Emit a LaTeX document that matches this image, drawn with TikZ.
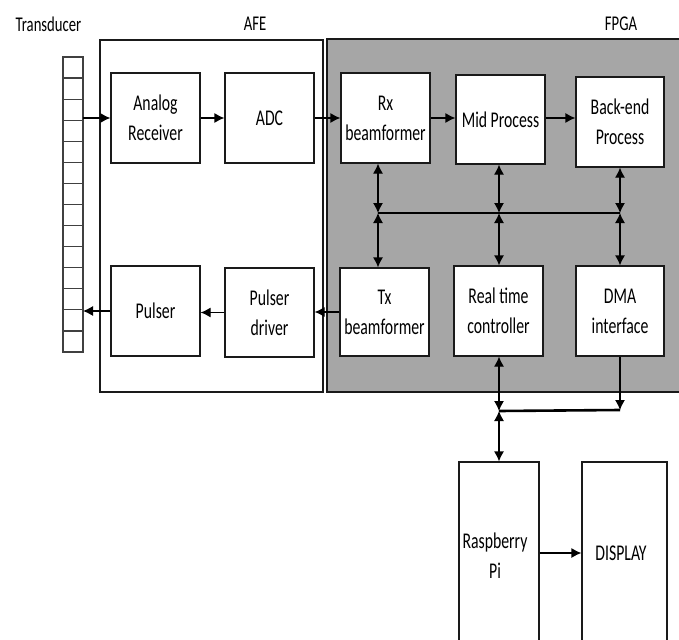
\documentclass[tikz,border=0pt]{standalone}
\usepackage{fontspec}
\setmainfont{Carlito}[FakeStretch=0.7]
\usetikzlibrary{arrows.meta}
\definecolor{fpgagray}{HTML}{A6A6A6}
\definecolor{edgecol}{HTML}{1A1A1A}
\begin{document}
\begin{tikzpicture}[x=1pt,y=-1pt,
  blk/.style={draw=edgecol, fill=white, line width=1.2pt, align=center, inner sep=0pt,
              font=\fontsize{22.5}{30}\selectfont},
  txt/.style={align=center, inner sep=0pt, font=\fontsize{22.5}{30}\selectfont},
  lbl/.style={inner sep=0pt, font=\fontsize{21}{25}\selectfont},
  arr/.style={-{Latex[length=10pt,width=10pt]}, line width=1.2pt, draw=black},
  darr/.style={{Latex[length=10pt,width=10pt]}-{Latex[length=10pt,width=10pt]}, line width=1.2pt, draw=black},
  bus/.style={line width=2.6pt, draw=black}]
\clip (0,0) rectangle (679,639);
\fill[white] (0,0) rectangle (679,639);
% labels
\node[lbl] (ltrans) at (48.5,24) {Transducer};
\node[lbl] (lafe) at (255,24) {AFE};
\node[lbl] (lfpga) at (621,24) {FPGA};
% AFE and FPGA regions
\draw[line width=1.2pt, draw=edgecol, fill=white] (100,40) rectangle (323,392);
\fill[fpgagray] (327,39) rectangle (685,392);
\draw[line width=1.2pt, draw=edgecol] (685,39) -- (327,39) -- (327,392) -- (685,392);
% transducer strip
\draw[line width=1.2pt, draw=black!75] (63,57) rectangle (83,352);
\foreach \i in {1,...,13} {
  \draw[line width=1.2pt, draw=black!75] (63,57+\i*21.07) -- (83,57+\i*21.07);
}
\coordinate (trans) at (83,200);
% blocks
\node[blk, minimum width=89pt, minimum height=90pt] (ar) at (155.5,118) {Analog\\Receiver};
\node[blk, minimum width=89pt, minimum height=90pt] (adc) at (269.5,118) {ADC};
\node[blk, minimum width=89pt, minimum height=90pt] (rx) at (385.5,118) {Rx\\beamformer};
\node[blk, minimum width=89pt, minimum height=89pt] (mid) at (500.5,119.5) {Mid Process};
\node[blk, minimum width=88pt, minimum height=90pt] (back) at (620,122) {Back-end\\Process};
\node[blk, minimum width=89pt, minimum height=90pt] (pul) at (155.5,311) {Pulser};
\node[blk, minimum width=89pt, minimum height=89pt] (pd) at (269.5,312.5) {Pulser\\driver};
\node[blk, minimum width=89pt, minimum height=88pt] (tx) at (384.5,312) {Tx\\beamformer};
\node[blk, minimum width=89pt, minimum height=90pt] (rtc) at (498.5,311) {Real time\\controller};
\node[blk, minimum width=88pt, minimum height=90pt] (dma) at (620,311) {DMA\\interface};
\node[blk, minimum width=80pt, minimum height=240pt] (rpi) at (499,582) {};
\node[blk, minimum width=85pt, minimum height=240pt] (disp) at (624.5,582) {};
\node[txt] (rpitxt) at (495,556) {Raspberry\\Pi};
\node[txt] (disptxt) at (621,553) {DISPLAY};
% receive chain
\draw[arr] (trans |- ar.west) -- (ar.west);
\draw[arr] (ar.east) -- (adc.west);
\draw[arr] (adc.east) -- (rx.west);
\draw[arr] (rx.east) -- (mid.west |- rx.east);
\draw[arr] (mid.east |- rx.east) -- (back.west |- rx.east);
% transmit chain
\draw[arr] (tx.west) -- (pd.east |- tx.west);
\draw[arr] (pd.west) -- (pul.east |- pd.west);
\draw[arr] (pul.west) -- (trans |- pul.west);
% top bus
\coordinate (b1) at (378,213);
\coordinate (b2) at (499,213);
\coordinate (b3) at (620,213);
\draw[bus] (b1) -- (b3);
\draw[darr] (b1 |- rx.south) -- (b1);
\draw[darr] (b2 |- mid.south) -- (b2);
\draw[darr] (b3 |- back.south) -- (b3);
\draw[darr] (b1) -- (b1 |- tx.north);
\draw[darr] (b2) -- (b2 |- rtc.north);
\draw[darr] (b3) -- (b3 |- dma.north);
% lower bus
\coordinate (c1) at (499,411);
\coordinate (c2) at (620,410);
\draw[darr] (c1 |- rtc.south) -- (c1);
\draw[arr] (c2 |- dma.south) -- (c2);
\draw[bus] (c1) -- (c2);
\draw[darr] (c1) -- (c1 |- rpi.north);
\draw[arr] (rpi.east |- disptxt) -- (disp.west |- disptxt);
\end{tikzpicture}
\end{document}
